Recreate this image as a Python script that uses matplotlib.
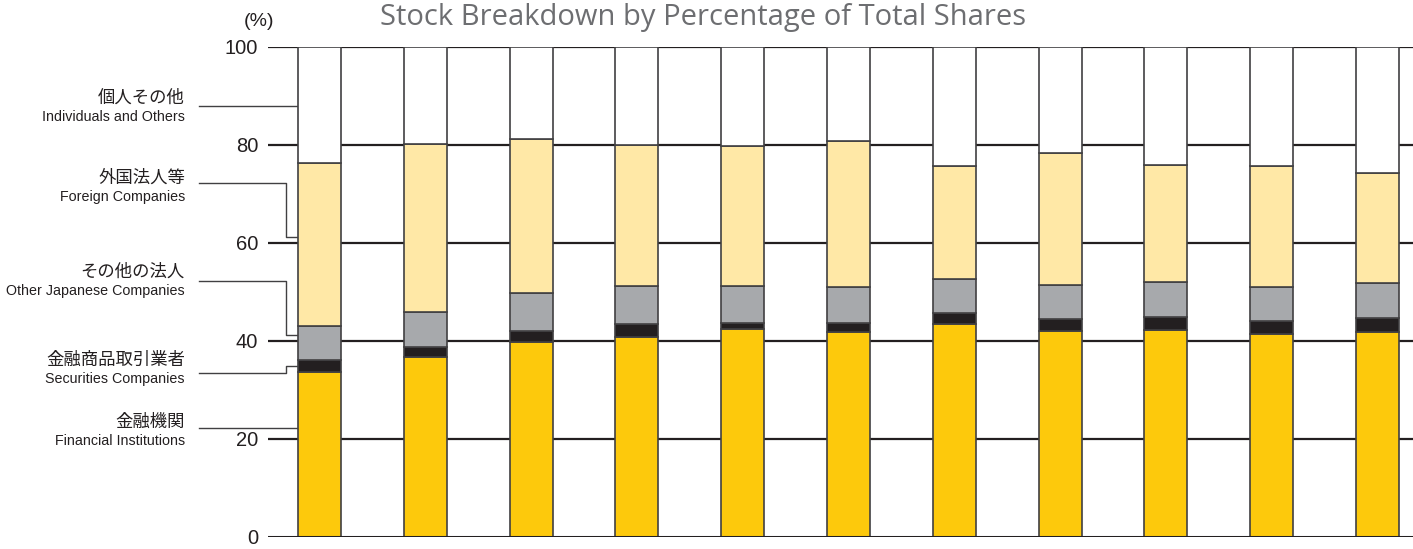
import numpy as np
import matplotlib.pyplot as plt

# values (%)
financial = [33.7, 36.8, 39.8, 40.9, 42.4, 41.9, 43.5, 42.0, 42.3, 41.4, 41.9]
securities = [2.4, 2.0, 2.3, 2.6, 1.3, 1.8, 2.3, 2.4, 2.6, 2.7, 2.8]
other_jp = [6.9, 7.2, 7.6, 7.7, 7.6, 7.4, 6.9, 7.0, 7.1, 6.9, 7.1]
foreign = [33.4, 34.2, 31.6, 28.8, 28.4, 29.7, 23.1, 26.9, 23.9, 24.8, 22.4]
individuals = [100 - a - b - c - d for a, b, c, d in zip(financial, securities, other_jp, foreign)]

yticks = [0, 20, 40, 60, 80, 100]
title = "Stock Breakdown by Percentage of Total Shares"

labels_jp = ["個人その他", "外国法人等", "その他の法人", "金融商品取引業者", "金融機関"]
labels_en = ["Individuals and Others", "Foreign Companies", "Other Japanese Companies",
             "Securities Companies", "Financial Institutions"]
label_y = [88.2, 72.0, 52.8, 34.8, 22.2]
# leader line: y at the label, y where it meets the first bar
lead_from = [88.0, 72.2, 52.3, 33.4, 22.2]
lead_to = [88.0, 61.2, 41.2, 34.9, 22.2]

sans = ['Liberation Sans', 'DejaVu Sans']
jp = ['Noto Sans CJK JP', 'DejaVu Sans']

fig = plt.figure(figsize=(14.13, 5.49), dpi=100)
ax = fig.add_axes([268/1413, 12/549, 1 - 268/1413, 490/549])

x = np.arange(len(financial))
w = 0.406
series = [financial, securities, other_jp, foreign, individuals]
colors = ["#fdc90c", "#231f20", "#a7a9ac", "#ffe8a6", "#ffffff"]
bottom = np.zeros(len(x))
for vals, c in zip(series, colors):
    ax.bar(x, vals, w, bottom=bottom, color=c, edgecolor="#414042", linewidth=1.2, zorder=3)
    bottom += np.array(vals)

for t in yticks[1:]:
    ax.axhline(t, color="#231f20", lw=1.6, zorder=1)
ax.axhline(0, color="#231f20", lw=2.2, zorder=4)

ax.set_xlim(-0.487, 10.335)
ax.set_ylim(0, 100)
ax.set_xticks([])
ax.set_yticks(yticks)
ax.set_yticklabels([str(t) for t in yticks], family=sans, fontsize=14.5, color="#231f20")
ax.tick_params(axis='y', length=0, pad=7)
for s in ax.spines.values():
    s.set_visible(False)

fig.text(703/1413, 1 - 17/549, title, ha='center', va='center', fontsize=21,
         color="#6d6e71", family=['Open Sans', 'DejaVu Sans'])
fig.text(259/1413, 1 - 21/549, "(%)", ha='center', va='center', fontsize=14,
         color="#231f20", family=sans)

px = 4.9  # pixels per percent
x_txt = -1.272
x_start = -1.139
x_bend = -0.317
for lj, le, ly in zip(labels_jp, labels_en, label_y):
    ax.text(x_txt, ly + 1.7/px, lj, ha='right', va='baseline', fontsize=12.5, family=jp,
            color="#231f20", clip_on=False)
    ax.text(x_txt, ly - 16.5/px, le, ha='right', va='baseline', fontsize=10.3, family=sans,
            color="#231f20", clip_on=False)
for y0, y1 in zip(lead_from, lead_to):
    if y0 == y1:
        ax.plot([x_start, -w/2], [y0, y0], color="#414042", lw=1, clip_on=False, zorder=2)
    else:
        ax.plot([x_start, x_bend, x_bend, -w/2], [y0, y0, y1, y1], color="#414042",
                lw=1, clip_on=False, zorder=2)

fig.savefig("out.png", dpi=100)
